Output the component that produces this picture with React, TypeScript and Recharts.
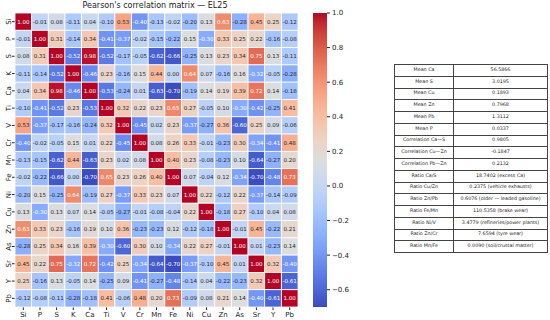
import React from "react";
import { ScatterChart, Scatter, XAxis, YAxis, BarChart, Bar } from "recharts";

const elements = ["Si", "P", "S", "K", "Ca", "Ti", "V", "Cr", "Mn", "Fe", "Ni", "Cu", "Zn", "As", "Sr", "Y", "Pb"];

// correlation rows, same order as elements
const rowSi = [1.0, -0.01, 0.08, -0.11, 0.04, -0.1, 0.53, -0.4, -0.13, -0.02, -0.2, 0.13, 0.63, -0.28, 0.45, 0.25, -0.12];
const rowP = [-0.01, 1.0, 0.31, -0.14, 0.34, -0.41, -0.37, -0.02, -0.15, -0.22, 0.15, -0.3, 0.33, 0.25, 0.22, -0.16, -0.08];
const rowS = [0.08, 0.31, 1.0, -0.52, 0.98, -0.52, -0.17, -0.05, -0.62, -0.66, -0.25, 0.13, 0.23, 0.34, 0.75, 0.13, -0.11];
const rowK = [-0.11, -0.14, -0.52, 1.0, -0.46, 0.23, -0.16, 0.15, 0.44, 0.0, 0.64, 0.07, -0.16, 0.16, -0.32, -0.05, -0.28];
const rowCa = [0.04, 0.34, 0.98, -0.46, 1.0, -0.53, -0.24, 0.01, -0.63, -0.7, -0.19, 0.14, 0.19, 0.39, 0.72, 0.14, -0.18];
const rowTi = [-0.1, -0.41, -0.52, 0.23, -0.53, 1.0, 0.32, 0.22, 0.23, 0.65, 0.27, -0.05, 0.1, -0.3, -0.42, -0.25, 0.41];
const rowV = [0.53, -0.37, -0.17, -0.16, -0.24, 0.32, 1.0, -0.45, 0.02, 0.23, -0.37, -0.27, 0.36, -0.6, 0.25, 0.09, -0.06];
const rowCr = [-0.4, -0.02, -0.05, 0.15, 0.01, 0.22, -0.45, 1.0, 0.08, 0.26, 0.33, -0.01, -0.23, 0.3, -0.34, -0.41, 0.48];
const rowMn = [-0.13, -0.15, -0.62, 0.44, -0.63, 0.23, 0.02, 0.08, 1.0, 0.4, 0.23, -0.08, -0.23, 0.1, -0.64, -0.27, 0.2];
const rowFe = [-0.02, -0.22, -0.66, 0.0, -0.7, 0.65, 0.23, 0.26, 0.4, 1.0, 0.07, -0.04, 0.12, -0.34, -0.7, -0.48, 0.73];
const rowNi = [-0.2, 0.15, -0.25, 0.64, -0.19, 0.27, -0.37, 0.33, 0.23, 0.07, 1.0, 0.22, -0.12, 0.22, -0.37, -0.14, -0.09];
const rowCu = [0.13, -0.3, 0.13, 0.07, 0.14, -0.05, -0.27, -0.01, -0.08, -0.04, 0.22, 1.0, -0.18, 0.27, -0.1, 0.04, 0.08];
const rowZn = [0.63, 0.33, 0.23, -0.16, 0.19, 0.1, 0.36, -0.23, -0.23, 0.12, -0.12, -0.18, 1.0, -0.01, 0.45, -0.22, 0.21];
const rowAs = [-0.28, 0.25, 0.34, 0.16, 0.39, -0.3, -0.6, 0.3, 0.1, -0.34, 0.22, 0.27, -0.01, 1.0, 0.01, -0.23, 0.14];
const rowSr = [0.45, 0.22, 0.75, -0.32, 0.72, -0.42, 0.25, -0.34, -0.64, -0.7, -0.37, -0.1, 0.45, 0.01, 1.0, 0.32, -0.4];
const rowY = [0.25, -0.16, 0.13, -0.05, 0.14, -0.25, 0.09, -0.41, -0.27, -0.48, -0.14, 0.04, -0.22, -0.23, 0.32, 1.0, -0.61];
const rowPb = [-0.12, -0.08, -0.11, -0.28, -0.18, 0.41, -0.06, 0.48, 0.2, 0.73, -0.09, 0.08, 0.21, 0.14, -0.4, -0.61, 1.0];

const matrix = [rowSi, rowP, rowS, rowK, rowCa, rowTi, rowV, rowCr, rowMn, rowFe, rowNi, rowCu, rowZn, rowAs, rowSr, rowY, rowPb];

const cbTicks = [-0.6, -0.4, -0.2, 0.0, 0.2, 0.4, 0.6, 0.8, 1.0];

const tableLabels = [
  "Mean Ca", "Mean S", "Mean Cu", "Mean Zn", "Mean Pb", "Mean P",
  "Correlation Ca—S", "Correlation Cu—Zn", "Correlation Pb—Zn",
  "Ratio Ca/S", "Ratio Cu/Zn", "Ratio Zn/Pb", "Ratio Fe/Mn", "Ratio Ni/V", "Ratio Zn/Cr", "Ratio Mn/Fe",
];
const tableValues = [
  "56.5866", "3.0195", "0.1893", "0.7968", "1.3112", "0.0337",
  "0.9805", "-0.1847", "0.2132",
  "18.7402 (excess Ca)", "0.2375 (vehicle exhausts)", "0.6076 (older — leaded gasoline)",
  "110.5358 (brake wear)", "3.4779 (refineries/power plants)", "7.6594 (tyre wear)", "0.0090 (soil/crustal matter)",
];

// matplotlib coolwarm, 33 samples
const coolwarm = [
  [59, 76, 192], [68, 90, 204], [77, 104, 215], [87, 117, 225], [98, 130, 234], [108, 142, 241],
  [119, 154, 247], [130, 165, 251], [141, 176, 254], [152, 185, 255], [163, 194, 255], [174, 201, 253],
  [184, 208, 249], [194, 213, 244], [204, 217, 238], [213, 219, 230], [221, 221, 221], [229, 216, 209],
  [236, 211, 197], [241, 204, 185], [245, 196, 173], [247, 187, 160], [247, 177, 148], [247, 166, 135],
  [244, 154, 123], [241, 141, 111], [236, 127, 99], [229, 112, 88], [222, 96, 77], [213, 80, 66],
  [203, 62, 56], [192, 40, 47], [180, 4, 38],
];

const vMin = Math.min(...matrix.flat());
const vMax = 1.0;

function cmapRgb(t: number) {
  const c = Math.max(0, Math.min(1, t)) * (coolwarm.length - 1);
  const i = Math.min(Math.floor(c), coolwarm.length - 2);
  const f = c - i;
  const a = coolwarm[i];
  const b = coolwarm[i + 1];
  return [0, 1, 2].map((k) => a[k] + (b[k] - a[k]) * f);
}

function rgbStr(rgb: number[]) {
  return `rgb(${rgb.map((v) => Math.round(v)).join(",")})`;
}

function luminance(rgb: number[]) {
  const lin = rgb.map((v) => {
    const s = v / 255;
    return s <= 0.03928 ? s / 12.92 : Math.pow((s + 0.055) / 1.055, 2.4);
  });
  return 0.2126 * lin[0] + 0.7152 * lin[1] + 0.0722 * lin[2];
}

const cells = matrix.flatMap((row, i) => row.map((v, j) => ({ x: j, y: i, v })));
const idx = elements.map((_, i) => i);

const FONT = "DejaVu Sans, sans-serif";
const INK = "#222";

// heatmap plot area: 15..298 x 13..307
const CELL_W = 283 / 17;
const CELL_H = 294 / 17;

function renderCell(props: any) {
  const { cx, cy, payload } = props;
  const rgb = cmapRgb((payload.v - vMin) / (vMax - vMin));
  const txt = luminance(rgb) > 0.42 ? "#262626" : "#ffffff";
  return (
    <g>
      <rect x={cx - CELL_W / 2} y={cy - CELL_H / 2} width={CELL_W} height={CELL_H} fill={rgbStr(rgb)} stroke="#fff" strokeWidth={0.8} />
      <text x={cx} y={cy} textAnchor="middle" dominantBaseline="central" fontSize={5.5} fill={txt} fontFamily={FONT}>
        {payload.v.toFixed(2)}
      </text>
    </g>
  );
}

function YTick(props: any) {
  const { x, y, payload } = props;
  return (
    <text x={x + 1} y={y} transform={`rotate(-90 ${x + 1} ${y})`} textAnchor="middle" fontSize={7} fill={INK} fontFamily={FONT}>
      {elements[payload.value]}
    </text>
  );
}

const fmtCb = (v: number) => (v < 0 ? "\u2212" + Math.abs(v).toFixed(1) : v.toFixed(1));

export default function App() {
  const gradStops = Array.from({ length: 33 }, (_, k) => k / 32);
  return (
    <div style={{ position: "absolute", left: 0, top: 0, width: 550, height: 320, background: "#fff", overflow: "hidden", fontFamily: FONT }}>
      <div style={{ position: "absolute", left: 0, top: 1, width: 310, textAlign: "center", fontSize: 8, color: INK }}>
        Pearson's correlation matrix — EL25
      </div>

      <div style={{ position: "absolute", left: 0, top: 0 }}>
        <ScatterChart width={310} height={320} margin={{ top: 13, right: 12, bottom: 0, left: 0 }}>
          <XAxis
            type="number"
            dataKey="x"
            domain={[-0.5, 16.5]}
            ticks={idx}
            interval={0}
            tickFormatter={(i: number) => elements[i]}
            tickSize={3}
            tickLine={{ stroke: INK }}
            axisLine={false}
            tick={{ fontSize: 7, fill: INK, fontFamily: FONT }}
            height={13}
          />
          <YAxis
            type="number"
            dataKey="y"
            domain={[-0.5, 16.5]}
            reversed
            ticks={idx}
            interval={0}
            width={15}
            tickSize={3}
            tickLine={{ stroke: INK }}
            axisLine={false}
            tick={<YTick />}
          />
          <Scatter data={cells} isAnimationActive={false} shape={renderCell} />
        </ScatterChart>
      </div>

      <div style={{ position: "absolute", left: 313, top: 0 }}>
        <BarChart width={60} height={320} data={[{ name: "cb", range: [vMin, vMax] }]} margin={{ top: 13, right: 0, bottom: 13, left: 0 }} barCategoryGap={0}>
          <defs>
            <linearGradient id="cbGrad" x1="0" y1="0" x2="0" y2="1">
              {gradStops.map((o) => (
                <stop key={o} offset={o} stopColor={rgbStr(cmapRgb(1 - o))} />
              ))}
            </linearGradient>
          </defs>
          <XAxis dataKey="name" hide />
          <YAxis
            orientation="right"
            type="number"
            domain={[vMin, vMax]}
            allowDataOverflow
            ticks={cbTicks}
            tickFormatter={fmtCb}
            width={46}
            tickSize={3}
            tickLine={{ stroke: INK }}
            axisLine={false}
            tick={{ fontSize: 7, fill: INK, fontFamily: FONT }}
          />
          <Bar dataKey="range" fill="url(#cbGrad)" isAnimationActive={false} />
        </BarChart>
      </div>

      <table
        style={{
          position: "absolute",
          left: 394,
          top: 64,
          width: 153,
          borderCollapse: "collapse",
          tableLayout: "fixed",
          fontSize: 4.8,
          color: INK,
          fontFamily: FONT,
        }}
      >
        <colgroup>
          <col style={{ width: 59 }} />
          <col style={{ width: 94 }} />
        </colgroup>
        <tbody>
          {tableLabels.map((lab, i) => (
            <tr key={lab} style={{ height: 11.75 }}>
              <td style={{ border: "1px solid #444", textAlign: "center", padding: 0, lineHeight: 1 }}>{lab}</td>
              <td style={{ border: "1px solid #444", textAlign: "center", padding: 0, lineHeight: 1 }}>{tableValues[i]}</td>
            </tr>
          ))}
        </tbody>
      </table>
    </div>
  );
}
